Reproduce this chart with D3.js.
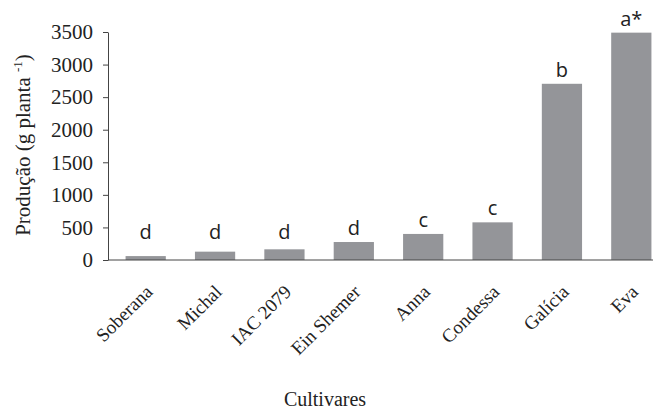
<!DOCTYPE html>
<html>
<head>
<meta charset="utf-8">
<script src="https://cdn.jsdelivr.net/npm/d3@7"></script>
<style>
  body { margin: 0; background: #fff; }
  svg { display: block; }
</style>
</head>
<body>
<div id="chart"></div>
<script>
// data
var cultivares = ["Soberana", "Michal", "IAC 2079", "Ein Shemer", "Anna", "Condessa", "Galícia", "Eva"];
var producao = [60, 128, 164, 276, 400, 578, 2705, 3490];
var letras = ["d", "d", "d", "d", "c", "c", "b", "a*"];
var yTicks = [0, 500, 1000, 1500, 2000, 2500, 3000, 3500];

var W = 653, H = 412;
var axisX = 108, axisY = 260, topY = 32;

var svg = d3.select("#chart")
  .append("svg")
    .attr("width", W)
    .attr("height", H);

var x = d3.scaleBand()
  .domain(cultivares)
  .range([111, 666])
  .paddingInner(0.42)
  .paddingOuter(0.21);

var y = d3.scaleLinear()
  .domain([0, 3500])
  .range([axisY, topY]);

// bars
svg.append("g")
  .selectAll("rect")
  .data(cultivares)
  .enter()
  .append("rect")
    .attr("x", d => x(d))
    .attr("width", x.bandwidth())
    .attr("y", (d, i) => y(producao[i]))
    .attr("height", (d, i) => axisY - y(producao[i]))
    .style("fill", "#949599");

// letters over bars
svg.append("g")
  .selectAll("text")
  .data(cultivares)
  .enter()
  .append("text")
    .attr("x", d => x(d) + x.bandwidth() / 2)
    .attr("y", (d, i) => Math.min(y(producao[i]) - 7, 239))
    .attr("text-anchor", "middle")
    .style("font-family", "'Open Sans', sans-serif")
    .style("font-size", "20px")
    .style("fill", "#222")
    .text((d, i) => letras[i]);

// y axis
var yAxis = svg.append("g")
  .attr("transform", "translate(" + axisX + ",0)")
  .call(d3.axisLeft(y).tickValues(yTicks).tickFormat(d3.format("d"))
    .tickSize(5).tickSizeOuter(0).tickPadding(10));
yAxis.select(".domain").attr("stroke", "#444");
yAxis.selectAll(".tick line").attr("stroke", "#444");
yAxis.selectAll(".tick text")
  .style("font-family", "'Liberation Serif', 'Times New Roman', serif")
  .style("font-size", "21px")
  .style("fill", "#222");

// x axis line
svg.append("line")
  .attr("x1", axisX).attr("x2", W)
  .attr("y1", axisY).attr("y2", axisY)
  .attr("stroke", "#444");

// x labels, rotated
svg.append("g")
  .selectAll("text")
  .data(cultivares)
  .enter()
  .append("text")
    .attr("transform", d => "translate(" + (x(d) + x.bandwidth() / 2 + 8) + "," + 293 + ") rotate(-45)")
    .attr("text-anchor", "end")
    .style("font-family", "'Liberation Serif', 'Times New Roman', serif")
    .style("font-size", "19px")
    .style("fill", "#222")
    .text(d => d);

// axis titles
svg.append("text")
  .attr("x", 325)
  .attr("y", 406)
  .attr("text-anchor", "middle")
  .style("font-family", "'Liberation Serif', 'Times New Roman', serif")
  .style("font-size", "20px")
  .style("fill", "#222")
  .text("Cultivares");

var yl = svg.append("text")
  .attr("transform", "translate(30,145) rotate(-90)")
  .attr("text-anchor", "middle")
  .style("font-family", "'Liberation Serif', 'Times New Roman', serif")
  .style("font-size", "21px")
  .style("fill", "#222");
yl.append("tspan").text("Produção (g planta ");
yl.append("tspan").attr("dy", -8).style("font-size", "13px").text("-1");
yl.append("tspan").attr("dy", 8).text(")");
</script>
</body>
</html>
